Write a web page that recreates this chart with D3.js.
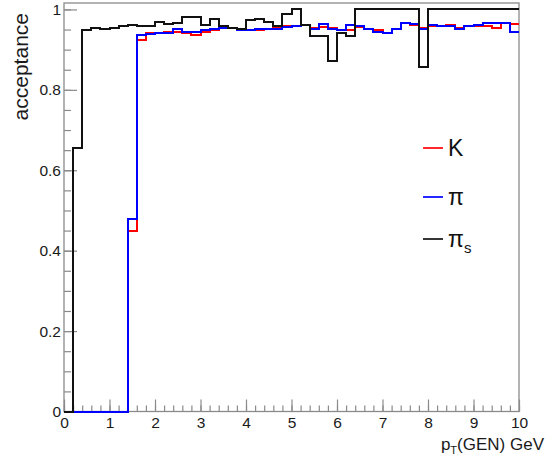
<!DOCTYPE html>
<html>
<head>
<meta charset="utf-8">
<script src="https://cdn.jsdelivr.net/npm/d3@7"></script>
<style>
  body { margin: 0; background: #fff; }
  svg { display: block; font-family: "Liberation Sans", Arial, sans-serif; }
</style>
</head>
<body>
<div id="chart"></div>
<script>
// histogram binning (pT in GeV)
var nBins = 50, xMin = 0, xMax = 10;

// acceptance per bin
var kaon = [0, 0, 0, 0, 0, 0, 0, 0.45, 0.925, 0.942,
  0.942, 0.943, 0.944, 0.942, 0.937, 0.944, 0.948, 0.958, 0.954, 0.948,
  0.948, 0.950, 0.952, 0.956, 0.958, 0.960, 0.962, 0.953, 0.956, 0.953,
  0.950, 0.950, 0.956, 0.951, 0.948, 0.942, 0.951, 0.966, 0.962, 0.954,
  0.958, 0.960, 0.962, 0.954, 0.958, 0.960, 0.958, 0.954, 0.966, 0.964];

var pion = [0, 0, 0, 0, 0, 0, 0, 0.48, 0.937, 0.939,
  0.942, 0.942, 0.951, 0.944, 0.945, 0.948, 0.951, 0.954, 0.954, 0.948,
  0.948, 0.951, 0.951, 0.952, 0.956, 0.960, 0.962, 0.951, 0.964, 0.951,
  0.948, 0.962, 0.958, 0.951, 0.944, 0.942, 0.952, 0.966, 0.964, 0.951,
  0.962, 0.958, 0.958, 0.951, 0.958, 0.962, 0.966, 0.966, 0.966, 0.945];

var softPion = [0, 0.656, 0.950, 0.954, 0.951, 0.954, 0.958, 0.962, 0.958, 0.960,
  0.968, 0.964, 0.966, 0.981, 0.980, 0.962, 0.976, 0.960, 0.954, 0.951,
  0.973, 0.975, 0.968, 0.960, 0.988, 1.0, 0.962, 0.933, 0.933, 0.871,
  0.942, 0.933, 1.0, 1.0, 1.0, 1.0, 1.0, 1.0, 1.0, 0.858,
  1.0, 1.0, 1.0, 1.0, 1.0, 1.0, 1.0, 1.0, 1.0, 1.0];

var yTicks = [0, 0.2, 0.4, 0.6, 0.8, 1];
var xTicks = [0, 1, 2, 3, 4, 5, 6, 7, 8, 9, 10];

var series = [
  {name: "K", sub: "", color: "#ff0000", values: kaon},
  {name: "\u03c0", sub: "", color: "#0000ff", values: pion},
  {name: "\u03c0", sub: "s", color: "#111111", values: softPion}
];

var W = 545, H = 455;
var frame = {left: 64, right: 519, top: 3, bottom: 411.5};
var frameColor = "#8a8a8a";

var x = d3.scaleLinear().domain([xMin, xMax]).range([frame.left, frame.right]);
var y = d3.scaleLinear().domain([0, 1.016]).range([frame.bottom, frame.top]);

var svg = d3.select("#chart").append("svg")
  .attr("width", W)
  .attr("height", H);

// frame
svg.append("rect")
  .attr("x", frame.left)
  .attr("y", frame.top)
  .attr("width", frame.right - frame.left)
  .attr("height", frame.bottom - frame.top)
  .attr("fill", "none")
  .attr("stroke", frameColor)
  .attr("stroke-width", 1.3);

// minor ticks first, then major ticks with labels (ROOT style, ticks inside)
var binW = (xMax - xMin) / nBins;
var xMinor = d3.range(0, nBins + 1).map(function (i) { return xMin + i * binW; });
var yMinor = d3.range(0, 21).map(function (i) { return i * 0.05; });

function styleAxis(g) {
  g.select(".domain").remove();
  g.selectAll(".tick line").attr("stroke", frameColor).attr("stroke-width", 1.2);
  g.selectAll(".tick text").attr("fill", "#1a1a1a").style("font-size", "15.5px");
}

svg.append("g")
  .attr("transform", "translate(0," + frame.bottom + ")")
  .call(d3.axisBottom(x).tickValues(xMinor).tickSize(-6).tickFormat(""))
  .call(styleAxis);

svg.append("g")
  .attr("transform", "translate(0," + frame.bottom + ")")
  .call(d3.axisBottom(x).tickValues(xTicks).tickSize(-12).tickPadding(5).tickFormat(d3.format("d")))
  .call(styleAxis);

svg.append("g")
  .attr("transform", "translate(" + frame.left + ",0)")
  .call(d3.axisLeft(y).tickValues(yMinor).tickSize(-7).tickFormat(""))
  .call(styleAxis);

svg.append("g")
  .attr("transform", "translate(" + frame.left + ",0)")
  .call(d3.axisLeft(y).tickValues(yTicks).tickSize(-13).tickPadding(3).tickFormat(d3.format("~g")))
  .call(styleAxis);

// histogram outlines as steps
var step = d3.line()
  .x(function (d) { return x(d[0]); })
  .y(function (d) { return y(d[1]); })
  .curve(d3.curveStepAfter);

series.forEach(function (s) {
  var pts = s.values.map(function (v, i) { return [xMin + i * binW, v]; });
  pts.push([xMax, s.values[s.values.length - 1]]);
  svg.append("path")
    .datum(pts)
    .attr("d", step)
    .attr("fill", "none")
    .attr("stroke", s.color)
    .attr("stroke-width", 2)
    .attr("shape-rendering", "crispEdges");
});

// axis titles
var xTitle = svg.append("text")
  .attr("x", 544)
  .attr("y", 450)
  .attr("text-anchor", "end")
  .attr("fill", "#1a1a1a")
  .style("font-size", "17px");
xTitle.append("tspan").text("p");
xTitle.append("tspan").attr("dy", 4).style("font-size", "11px").text("T");
xTitle.append("tspan").attr("dy", -4).text("(GEN) GeV");

svg.append("text")
  .attr("transform", "translate(28,13) rotate(-90)")
  .attr("text-anchor", "end")
  .attr("fill", "#1a1a1a")
  .style("font-size", "21px")
  .text("acceptance");

// legend
var legendY = [148, 197, 239];
series.forEach(function (s, i) {
  var ly = legendY[i];
  svg.append("line")
    .attr("x1", 423).attr("x2", 443)
    .attr("y1", ly).attr("y2", ly)
    .attr("stroke", s.color)
    .attr("stroke-width", 1.7);
  var t = svg.append("text")
    .attr("x", 448)
    .attr("y", ly + 8)
    .attr("fill", "#111")
    .style("font-size", "23px");
  t.append("tspan").text(s.name);
  if (s.sub) {
    t.append("tspan").attr("dy", 6).style("font-size", "15px").text(s.sub);
  }
});
</script>
</body>
</html>
